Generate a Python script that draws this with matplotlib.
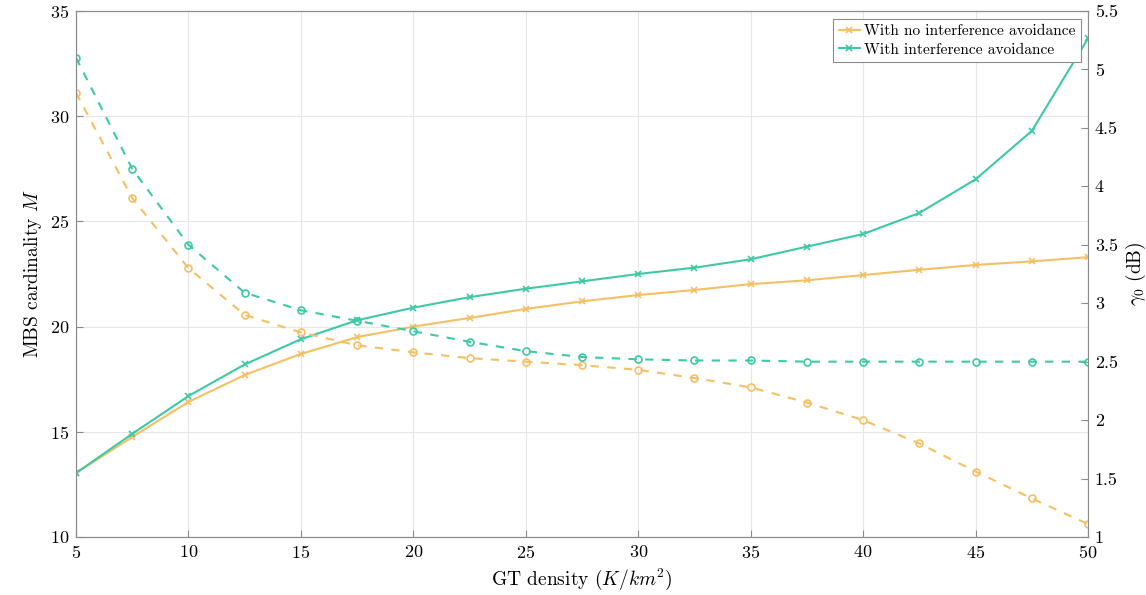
import matplotlib
matplotlib.use("Agg")
import matplotlib.pyplot as plt

plt.rcParams['font.family'] = 'serif'
plt.rcParams['font.serif'] = ['cmr10']
plt.rcParams['mathtext.fontset'] = 'cm'
plt.rcParams['axes.formatter.use_mathtext'] = True

density = [5, 7.5, 10, 12.5, 15, 17.5, 20, 22.5, 25, 27.5, 30, 32.5, 35, 37.5, 40, 42.5, 45, 47.5, 50]

M_no_avoid = [13.04, 14.75, 16.42, 17.7, 18.7, 19.5, 20.0, 20.41, 20.84, 21.2, 21.5, 21.74, 22.02, 22.2, 22.45, 22.7, 22.93, 23.1, 23.3]
M_avoid = [13.04, 14.9, 16.7, 18.2, 19.4, 20.3, 20.9, 21.4, 21.8, 22.15, 22.5, 22.8, 23.2, 23.8, 24.4, 25.4, 27.0, 29.3, 33.7]

g0_no_avoid = [4.80, 3.90, 3.30, 2.90, 2.75, 2.64, 2.58, 2.53, 2.50, 2.47, 2.43, 2.36, 2.28, 2.15, 2.00, 1.80, 1.56, 1.33, 1.11]
g0_avoid = [5.10, 4.15, 3.50, 3.09, 2.94, 2.85, 2.76, 2.67, 2.59, 2.54, 2.52, 2.51, 2.51, 2.50, 2.50, 2.50, 2.50, 2.50, 2.50]

orange = '#F5BF65'
teal = '#3DC9A5'
spine_c = '#8c8c8c'

fig = plt.figure(figsize=(11.46, 5.95), dpi=100)
ax = fig.add_axes([0.0663, 0.0975, 0.8831, 0.884])
ax2 = ax.twinx()

l1, = ax.plot(density, M_no_avoid, '-', color=orange, marker='x', ms=4, mew=1.2, lw=1.5,
              label='With no interference avoidance')
l2, = ax.plot(density, M_avoid, '-', color=teal, marker='x', ms=4, mew=1.2, lw=1.5,
              label='With interference avoidance')
ax2.plot(density, g0_no_avoid, '--', color=orange, marker='o', ms=5, mfc='none', mew=1.2, lw=1.5,
         dashes=(4, 4))
ax2.plot(density, g0_avoid, '--', color=teal, marker='o', ms=5, mfc='none', mew=1.2, lw=1.5,
         dashes=(4, 4))

ax.set_xlim(5, 50)
ax.set_ylim(10, 35)
ax2.set_ylim(1, 5.5)
ax.set_xticks([5, 10, 15, 20, 25, 30, 35, 40, 45, 50])
ax.set_yticks([10, 15, 20, 25, 30, 35])
ax2.set_yticks([1, 1.5, 2, 2.5, 3, 3.5, 4, 4.5, 5, 5.5])
ax2.set_yticklabels(['1', '1.5', '2', '2.5', '3', '3.5', '4', '4.5', '5', '5.5'])

ax.grid(True, color='#e6e6e6', lw=0.8)
ax.set_axisbelow(True)

for a in (ax, ax2):
    for s in a.spines.values():
        s.set_color(spine_c)
    a.tick_params(direction='in', length=5, color=spine_c, labelsize=13, pad=5)
ax.tick_params(top=False)

ax.set_xlabel(r'GT density $(K/km^2)$', fontsize=14)
ax.set_ylabel(r'MBS cardinality $M$', fontsize=14)
ax2.set_ylabel(r'$\gamma_0$ (dB)', fontsize=14)

leg = ax.legend(handles=[l1, l2], loc='upper right', fontsize=11.1, fancybox=False,
                edgecolor=spine_c, framealpha=1, handlelength=1.4, handletextpad=0.25,
                borderpad=0.35, labelspacing=0.3, borderaxespad=0,
                bbox_to_anchor=(0.993, 0.985))
leg.get_frame().set_linewidth(0.8)

fig.savefig('out.png', dpi=100)
